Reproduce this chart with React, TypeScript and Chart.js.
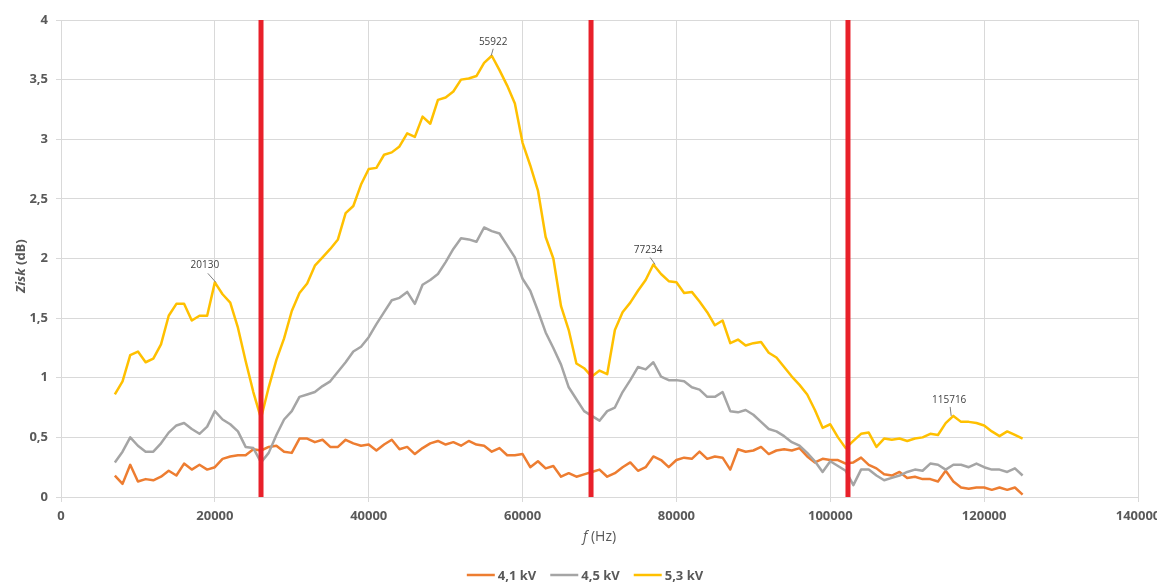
import React, { useEffect, useRef } from "react";
import { Chart, registerables } from "chart.js";

Chart.register(...registerables);

// Frequency grid (Hz)
const freqHz = [
  7000, 8000, 9000, 10000, 11000, 12000, 13000, 14000, 15000, 16000,
  17000, 18000, 19000, 20000, 21000, 22000, 23000, 24000, 25000, 26000,
  27000, 28000, 29000, 30000, 31000, 32000, 33000, 34000, 35000, 36000,
  37000, 38000, 39000, 40000, 41000, 42000, 43000, 44000, 45000, 46000,
  47000, 48000, 49000, 50000, 51000, 52000, 53000, 54000, 55000, 56000,
  57000, 58000, 59000, 60000, 61000, 62000, 63000, 64000, 65000, 66000,
  67000, 68000, 69000, 70000, 71000, 72000, 73000, 74000, 75000, 76000,
  77000, 78000, 79000, 80000, 81000, 82000, 83000, 84000, 85000, 86000,
  87000, 88000, 89000, 90000, 91000, 92000, 93000, 94000, 95000, 96000,
  97000, 98000, 99000, 100000, 101000, 102000, 103000, 104000, 105000, 106000,
  107000, 108000, 109000, 110000, 111000, 112000, 113000, 114000, 115000, 116000,
  117000, 118000, 119000, 120000, 121000, 122000, 123000, 124000, 125000,
];

// 4,1 kV
const gain41 = [
  0.18, 0.11, 0.27, 0.13, 0.15, 0.14, 0.17, 0.22, 0.18, 0.28,
  0.23, 0.27, 0.23, 0.25, 0.32, 0.34, 0.35, 0.35, 0.40, 0.39,
  0.42, 0.43, 0.38, 0.37, 0.49, 0.49, 0.46, 0.48, 0.42, 0.42,
  0.48, 0.45, 0.43, 0.44, 0.39, 0.44, 0.48, 0.40, 0.42, 0.36,
  0.41, 0.45, 0.47, 0.44, 0.46, 0.43, 0.47, 0.44, 0.43, 0.38,
  0.41, 0.35, 0.35, 0.36, 0.25, 0.30, 0.24, 0.26, 0.17, 0.20,
  0.17, 0.19, 0.21, 0.23, 0.17, 0.20, 0.25, 0.29, 0.22, 0.25,
  0.34, 0.31, 0.25, 0.31, 0.33, 0.32, 0.38, 0.32, 0.34, 0.33,
  0.23, 0.40, 0.38, 0.39, 0.42, 0.36, 0.39, 0.40, 0.39, 0.41,
  0.34, 0.29, 0.32, 0.31, 0.31, 0.28, 0.29, 0.33, 0.27, 0.24,
  0.19, 0.18, 0.21, 0.16, 0.17, 0.15, 0.15, 0.13, 0.22, 0.13,
  0.08, 0.07, 0.08, 0.08, 0.06, 0.08, 0.06, 0.08, 0.02,
];

// 4,5 kV
const gain45 = [
  0.29, 0.38, 0.50, 0.43, 0.38, 0.38, 0.45, 0.54, 0.60, 0.62,
  0.57, 0.53, 0.59, 0.72, 0.65, 0.61, 0.55, 0.42, 0.41, 0.29,
  0.37, 0.52, 0.65, 0.72, 0.84, 0.86, 0.88, 0.93, 0.97, 1.05,
  1.13, 1.22, 1.26, 1.34, 1.45, 1.55, 1.65, 1.67, 1.72, 1.62,
  1.78, 1.82, 1.87, 1.97, 2.08, 2.17, 2.16, 2.14, 2.26, 2.23,
  2.21, 2.11, 2.01, 1.83, 1.73, 1.56, 1.38, 1.25, 1.11, 0.92,
  0.82, 0.72, 0.68, 0.64, 0.72, 0.75, 0.88, 0.98, 1.09, 1.07,
  1.13, 1.01, 0.98, 0.98, 0.97, 0.92, 0.90, 0.84, 0.84, 0.88,
  0.72, 0.71, 0.73, 0.69, 0.63, 0.57, 0.55, 0.51, 0.46, 0.43,
  0.37, 0.30, 0.21, 0.30, 0.26, 0.22, 0.10, 0.23, 0.23, 0.18,
  0.14, 0.16, 0.18, 0.21, 0.23, 0.22, 0.28, 0.27, 0.23, 0.27,
  0.27, 0.25, 0.28, 0.25, 0.23, 0.23, 0.21, 0.24, 0.18,
];

// 5,3 kV
const gain53 = [
  0.86, 0.97, 1.19, 1.22, 1.13, 1.16, 1.28, 1.52, 1.62, 1.62,
  1.48, 1.52, 1.52, 1.80, 1.70, 1.63, 1.42, 1.14, 0.88, 0.66,
  0.92, 1.15, 1.33, 1.56, 1.71, 1.79, 1.94, 2.01, 2.08, 2.16,
  2.38, 2.44, 2.62, 2.75, 2.76, 2.87, 2.89, 2.94, 3.05, 3.02,
  3.19, 3.13, 3.33, 3.35, 3.40, 3.50, 3.51, 3.53, 3.64, 3.70,
  3.58, 3.45, 3.30, 2.97, 2.78, 2.57, 2.18, 2.00, 1.60, 1.40,
  1.12, 1.08, 1.01, 1.06, 1.03, 1.40, 1.55, 1.63, 1.73, 1.82,
  1.95, 1.87, 1.81, 1.80, 1.71, 1.72, 1.64, 1.55, 1.44, 1.48,
  1.29, 1.32, 1.27, 1.29, 1.30, 1.21, 1.17, 1.09, 1.01, 0.94,
  0.86, 0.73, 0.58, 0.61, 0.50, 0.41, 0.47, 0.53, 0.54, 0.42,
  0.49, 0.48, 0.49, 0.47, 0.49, 0.50, 0.53, 0.52, 0.62, 0.68,
  0.63, 0.63, 0.62, 0.60, 0.55, 0.51, 0.55, 0.52, 0.49,
];

const seriesNames = ["4,1 kV", "4,5 kV", "5,3 kV"];
const seriesColors = ["#ED7D31", "#A5A5A5", "#FFC000"];

// Vertical red marker lines (Hz)
const markerHz = [26000, 68900, 102300];

// Peak labels on the 5,3 kV curve
const peakHz = [20130, 55922, 77234, 115716];
const peakText = ["20130", "55922", "77234", "115716"];

const xMin = 0;
const xMax = 140000;
const xStep = 20000;
const yMin = 0;
const yMax = 4;
const yStep = 0.5;

const CANVAS_W = 1180;
const CANVAS_H = 583;

const TICK_COLOR = "#595959";
const GRID_COLOR = "#d9d9d9";
const FONT = "'Open Sans', 'DejaVu Sans', sans-serif";

// label offsets (px) relative to the peak point: [labelDx, labelDy, leaderDx, leaderDy]
const peakOffsets = [
  [-11, -17, -8, -9],
  [2, -14, 2, -7],
  [-7, -14, -5, -7],
  [-2, -16, -1, -9],
];

function nearestValue(f: number, xs: number[], ys: number[]) {
  let best = 0;
  let bd = Infinity;
  for (let i = 0; i < xs.length; i++) {
    const d = Math.abs(xs[i] - f);
    if (d < bd) {
      bd = d;
      best = i;
    }
  }
  return ys[best];
}

const overlayPlugin = {
  id: "overlay",
  afterDatasetsDraw(chart: any) {
    const ctx = chart.ctx;
    const xs = chart.scales.x;
    const ys = chart.scales.y;
    ctx.save();
    ctx.font = `10px ${FONT}`;
    ctx.textAlign = "center";
    ctx.textBaseline = "middle";
    peakHz.forEach((f, i) => {
      const v = nearestValue(f, freqHz, gain53);
      const px = xs.getPixelForValue(f);
      const py = ys.getPixelForValue(v);
      const [ldx, ldy, sdx, sdy] = peakOffsets[i];
      ctx.strokeStyle = "#7f7f7f";
      ctx.lineWidth = 1;
      ctx.beginPath();
      ctx.moveTo(px + sdx, py + sdy);
      ctx.lineTo(px, py);
      ctx.stroke();
      ctx.fillStyle = "#404040";
      ctx.fillText(peakText[i], px + ldx, py + ldy);
    });
    ctx.restore();
  },
  afterDraw(chart: any) {
    const ctx = chart.ctx;
    const area = chart.chartArea;
    ctx.save();
    ctx.fillStyle = TICK_COLOR;
    ctx.textBaseline = "middle";

    // Y axis title: "Zisk" italic + " (dB)"
    ctx.save();
    ctx.translate(21, 266);
    ctx.rotate(-Math.PI / 2);
    const yf1 = `italic bold 13px ${FONT}`;
    const yf2 = `bold 13px ${FONT}`;
    ctx.font = yf1;
    const w1 = ctx.measureText("Zisk").width;
    ctx.font = yf2;
    const w2 = ctx.measureText(" (dB)").width;
    const sx = -(w1 + w2) / 2;
    ctx.textAlign = "left";
    ctx.font = yf1;
    ctx.fillText("Zisk", sx, 0);
    ctx.font = yf2;
    ctx.fillText(" (dB)", sx + w1, 0);
    ctx.restore();

    // X axis title: "f" italic + " (Hz)"
    const xf1 = `italic 14px ${FONT}`;
    const xf2 = `14px ${FONT}`;
    ctx.font = xf1;
    const a1 = ctx.measureText("f").width;
    ctx.font = xf2;
    const a2 = ctx.measureText(" (Hz)").width;
    const cx = (area.left + area.right) / 2;
    const tx = cx - (a1 + a2) / 2;
    ctx.textAlign = "left";
    ctx.font = xf1;
    ctx.fillText("f", tx, 537);
    ctx.font = xf2;
    ctx.fillText(" (Hz)", tx + a1, 537);

    // Legend
    ctx.font = `bold 13px ${FONT}`;
    const lineLen = 28;
    const gapAfterLine = 3;
    const itemGap = 14;
    const widths = seriesNames.map((n) => ctx.measureText(n).width);
    const total =
      widths.reduce((s, w) => s + w, 0) +
      seriesNames.length * (lineLen + gapAfterLine) +
      (seriesNames.length - 1) * itemGap;
    let lx = 585 - total / 2;
    const ly = 575;
    seriesNames.forEach((n, i) => {
      ctx.strokeStyle = seriesColors[i];
      ctx.lineWidth = 2.5;
      ctx.beginPath();
      ctx.moveTo(lx, ly);
      ctx.lineTo(lx + lineLen, ly);
      ctx.stroke();
      lx += lineLen + gapAfterLine;
      ctx.fillStyle = TICK_COLOR;
      ctx.fillText(n, lx, ly + 1);
      lx += widths[i] + itemGap;
    });
    ctx.restore();
  },
};

export default function App() {
  const canvasRef = useRef<HTMLCanvasElement | null>(null);

  useEffect(() => {
    const canvas = canvasRef.current;
    if (!canvas) return;

    const series = [gain41, gain45, gain53].map((vals, i) => ({
      label: seriesNames[i],
      data: freqHz.map((f, j) => ({ x: f, y: vals[j] })),
      borderColor: seriesColors[i],
      backgroundColor: seriesColors[i],
      borderWidth: 2.5,
      borderJoinStyle: "round",
      pointRadius: 0,
      tension: 0,
      fill: false,
      order: 3 - i,
    }));

    const markers = markerHz.map((f) => ({
      label: "marker",
      data: [
        { x: f, y: yMin },
        { x: f, y: yMax },
      ],
      borderColor: "#E8202A",
      backgroundColor: "#E8202A",
      borderWidth: 5,
      borderCapStyle: "butt",
      pointRadius: 0,
      fill: false,
      order: 0,
    }));

    const chart = new Chart(canvas, {
      type: "line",
      data: { datasets: [...series, ...markers] as any },
      options: {
        animation: false,
        responsive: false,
        maintainAspectRatio: false,
        parsing: false as any,
        layout: { padding: { top: 20, right: CANVAS_W - 1138, left: 0, bottom: 0 } },
        plugins: {
          legend: { display: false },
          tooltip: { enabled: false },
          title: { display: false },
        },
        scales: {
          x: {
            type: "linear",
            min: xMin,
            max: xMax,
            afterFit: (scale: any) => {
              scale.height = CANVAS_H - 497;
            },
            afterBuildTicks: (scale: any) => {
              const t = [];
              for (let v = xMin; v <= xMax; v += xStep) t.push({ value: v });
              scale.ticks = t;
            },
            ticks: {
              stepSize: xStep,
              maxRotation: 0,
              autoSkip: false,
              padding: 6,
              color: TICK_COLOR,
              font: { family: FONT, size: 13, weight: "bold" },
              callback: (v: any) => String(v),
            },
            grid: { color: GRID_COLOR, tickLength: 5, lineWidth: 1 },
            border: { color: GRID_COLOR },
          },
          y: {
            type: "linear",
            min: yMin,
            max: yMax,
            afterFit: (scale: any) => {
              scale.width = 61;
            },
            ticks: {
              stepSize: yStep,
              padding: 8,
              color: TICK_COLOR,
              font: { family: FONT, size: 13, weight: "bold" },
              callback: (v: any) => String(v).replace(".", ","),
            },
            grid: { color: GRID_COLOR, tickLength: 5, lineWidth: 1 },
            border: { color: GRID_COLOR },
          },
        },
      } as any,
      plugins: [overlayPlugin],
    });

    return () => {
      chart.destroy();
    };
  }, []);

  return (
    <div
      style={{
        position: "fixed",
        left: 0,
        top: 0,
        width: 1157,
        height: 583,
        overflow: "hidden",
        background: "#ffffff",
      }}
    >
      <canvas
        ref={canvasRef}
        width={CANVAS_W}
        height={CANVAS_H}
        style={{ width: CANVAS_W, height: CANVAS_H, display: "block" }}
      />
    </div>
  );
}
